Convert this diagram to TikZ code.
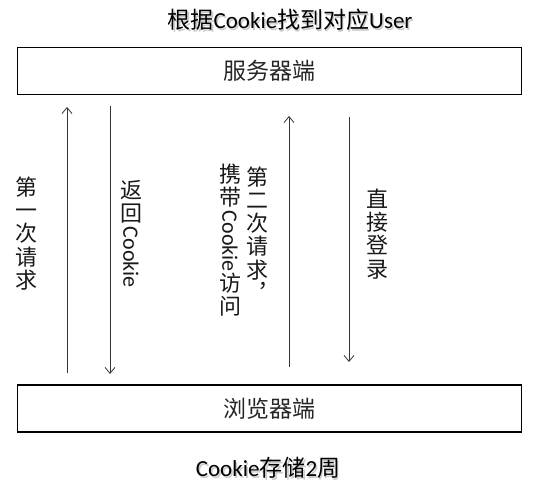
\documentclass[tikz,border=0pt]{standalone}
\usepackage{fontspec}
\setmainfont{Carlito}
\newfontfamily\cjk{Noto Sans CJK SC}
\usetikzlibrary{arrows.meta}
\newcommand{\vcookie}{\raisebox{18pt}{\rotatebox{-90}{\normalfont Cookie}}}
\tikzset{
  x=1pt, y=-1pt,
  box/.style={draw=black, line width=1.3pt, minimum width=504pt, minimum height=47pt, inner sep=0pt,
    font=\cjk\fontsize{23}{26}\selectfont, text=black!85},
  title/.style={font=\fontsize{23}{27}\selectfont, inner sep=0pt},
  shadowtext/.style={title, text=black!35, opacity=0.6},
  vlabel/.style={align=center, inner sep=0pt, font=\cjk\fontsize{22}{23.3}\selectfont, text=black!90},
  arr/.style={line width=0.8pt, draw=black!80, -{Straight Barb[length=6pt,width=10pt]}}
}
\begin{document}
\begin{tikzpicture}
\useasboundingbox (0,0) rectangle (533,494);
% title
\node[shadowtext] (titleshadow) at (291.5,21.5) {{\cjk 根据}Cookie{\cjk 找到对应}User};
\node[title] (title) at (290,20) {{\cjk 根据}Cookie{\cjk 找到对应}User};
% boxes
\node[box] (server) at (269.5,71) {服务器端};
\node[box] (browser) at (269.5,408.5) {浏览器端};
% bottom caption
\node[shadowtext] (capshadow) at (269.5,469.5) {Cookie{\cjk 存储}2{\cjk 周}};
\node[title] (caption) at (268,468) {Cookie{\cjk 存储}2{\cjk 周}};
% arrow end points
\coordinate (a1s) at (67,373);  \coordinate (a1e) at (67,107);
\coordinate (a2s) at (110,106); \coordinate (a2e) at (110,374);
\coordinate (a3s) at (289,367); \coordinate (a3e) at (289,116);
\coordinate (a4s) at (349,117); \coordinate (a4e) at (349,362);
\draw[arr] (a1s) -- (a1e);
\draw[arr] (a2s) -- (a2e);
\draw[arr] (a3s) -- (a3e);
\draw[arr] (a4s) -- (a4e);
% vertical labels
\node[vlabel] (l1) at (27,233.5) {第\\一\\次\\请\\求};
\node[vlabel] (l2) at (131,234) {返\\回\\\vcookie};
\node[vlabel] (l3) at (230,240) {携\\带\\\vcookie\\访\\问};
\node[vlabel] (l4) at (257,234) {第\\二\\次\\请\\求\\︐};
\node[vlabel] (l5) at (377,234) {直\\接\\登\\录};
\end{tikzpicture}
\end{document}
